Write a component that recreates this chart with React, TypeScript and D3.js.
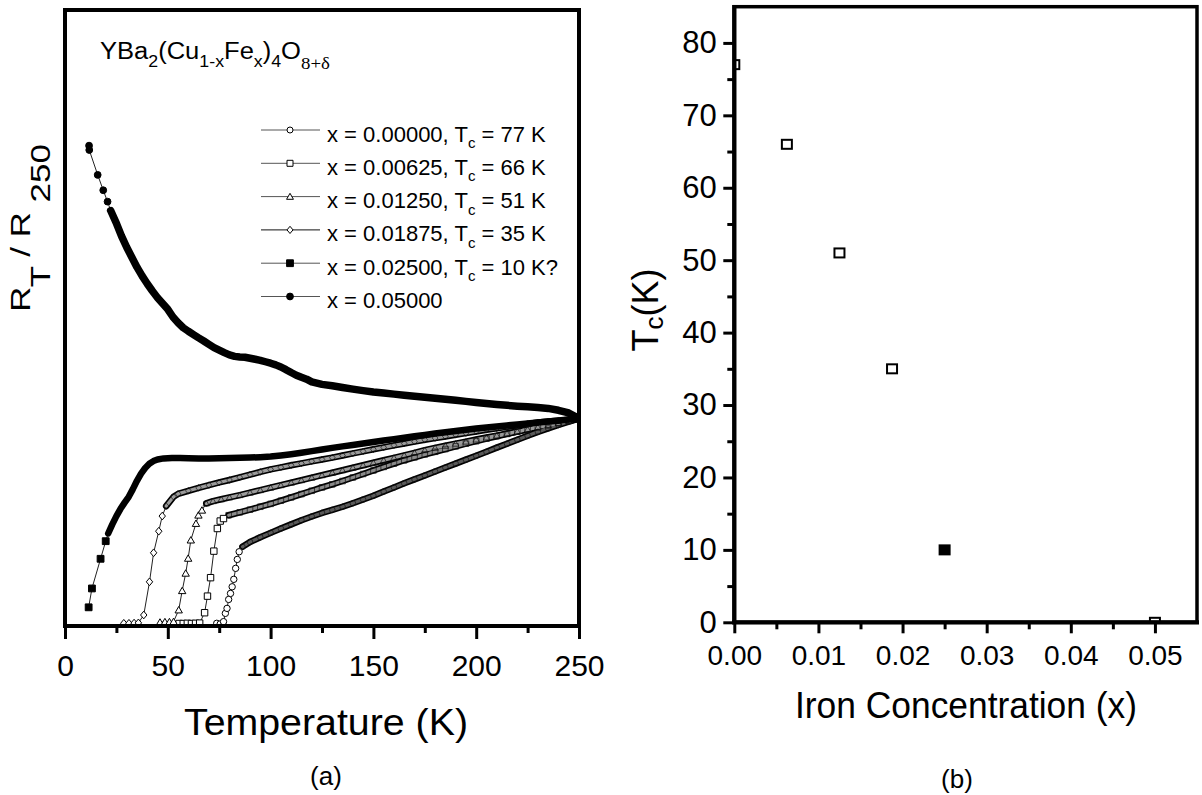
import React, { useEffect, useRef } from "react";
import * as d3 from "d3";

// ---- panel (a): R_T / R_250 against temperature (K), one pair per composition ----
const t00000 = [73.8, 75.5, 77.1, 78.0, 78.8, 79.6, 80.5, 81.3, 82.1, 83.0, 83.8, 84.7, 86.3,
  90, 95, 100, 105, 110, 115, 120, 125, 130, 135, 140, 145, 150, 155, 160, 165, 170, 175, 180,
  185, 190, 195, 200, 205, 210, 215, 220, 225, 230, 235, 240, 245, 250];
const r00000 = [0.013, 0.010, 0.021, 0.061, 0.085, 0.128, 0.157, 0.189, 0.225, 0.278, 0.321, 0.358, 0.382,
  0.405, 0.428, 0.449, 0.470, 0.490, 0.510, 0.528, 0.545, 0.560, 0.575, 0.592, 0.610, 0.628, 0.648, 0.668,
  0.688, 0.707, 0.726, 0.745, 0.764, 0.783, 0.802, 0.821, 0.840, 0.860, 0.879, 0.898, 0.917, 0.936, 0.953,
  0.969, 0.985, 1.0];

const t00625 = [55.5, 57.5, 59.5, 61.5, 63.5, 65.5, 67.9, 69.3, 70.8, 72.4, 74.1, 75.5, 77.1, 79.6,
  85, 90, 95, 100, 105, 110, 115, 120, 125, 130, 135, 140, 145, 150, 155, 160, 165, 170, 175, 180,
  185, 190, 195, 200, 205, 210, 215, 220, 225, 230, 235, 240, 245, 250];
const r00625 = [0.012, 0.012, 0.013, 0.012, 0.013, 0.014, 0.064, 0.144, 0.233, 0.361, 0.470, 0.506, 0.518, 0.534,
  0.548, 0.561, 0.575, 0.589, 0.604, 0.620, 0.636, 0.652, 0.668, 0.683, 0.699, 0.716, 0.733, 0.750, 0.767,
  0.783, 0.799, 0.813, 0.827, 0.840, 0.853, 0.866, 0.879, 0.891, 0.903, 0.915, 0.926, 0.937, 0.948, 0.958,
  0.968, 0.978, 0.989, 1.0];

const t01250 = [46.2, 48.6, 50.8, 52.8, 55.3, 57.0, 58.7, 59.9, 61.2, 63.7, 64.9, 66.6, 68.7, 72, 76, 80,
  85, 90, 95, 100, 105, 110, 115, 120, 125, 130, 135, 140, 145, 150, 155, 160, 165, 170, 175, 180,
  185, 190, 195, 200, 205, 210, 215, 220, 225, 230, 235, 240, 245, 250];
const r01250 = [0.018, 0.020, 0.020, 0.021, 0.077, 0.170, 0.254, 0.326, 0.414, 0.494, 0.534, 0.558, 0.591,
  0.602, 0.611, 0.620, 0.631, 0.643, 0.655, 0.667, 0.679, 0.691, 0.703, 0.715, 0.727, 0.739, 0.751, 0.763,
  0.775, 0.787, 0.799, 0.811, 0.823, 0.835, 0.848, 0.859, 0.869, 0.879, 0.889, 0.899, 0.909, 0.918, 0.928,
  0.938, 0.948, 0.958, 0.968, 0.979, 0.989, 1.0];

const t01875 = [28.6, 31.1, 33.6, 35.7, 38.3, 41.1, 43.1, 45.6, 47.3, 49.2, 52.8,
  55, 60, 65, 70, 75, 80, 85, 90, 95, 100, 105, 110, 115, 120, 125, 130, 135, 140, 145, 150, 155,
  160, 165, 170, 175, 180, 185, 190, 195, 200, 205, 210, 215, 220, 225, 230, 235, 240, 245, 250];
const r01875 = [0.013, 0.013, 0.014, 0.015, 0.053, 0.213, 0.353, 0.457, 0.530, 0.578, 0.623,
  0.637, 0.652, 0.666, 0.679, 0.692, 0.704, 0.717, 0.730, 0.743, 0.755, 0.765, 0.775, 0.784, 0.794, 0.803,
  0.812, 0.822, 0.832, 0.842, 0.852, 0.861, 0.871, 0.880, 0.889, 0.898, 0.906, 0.914, 0.922, 0.930, 0.938,
  0.946, 0.953, 0.960, 0.967, 0.974, 0.981, 0.986, 0.991, 0.996, 1.0];

const t02500 = [11.5, 13.1, 17.3, 19.8, 21, 23, 25, 27, 29, 31, 33, 35, 37, 39, 41, 43, 45, 48, 52, 56,
  60, 65, 70, 75, 80, 85, 90, 95, 100, 105, 110, 115, 120, 125, 130, 135, 140, 145, 150, 155, 160,
  165, 170, 175, 180, 185, 190, 195, 200, 205, 210, 215, 220, 225, 230, 235, 240, 245, 250];
const r02500 = [0.090, 0.181, 0.324, 0.409, 0.446, 0.490, 0.530, 0.565, 0.595, 0.623, 0.660, 0.700, 0.735,
  0.762, 0.782, 0.795, 0.803, 0.808, 0.810, 0.810, 0.809, 0.808, 0.808, 0.809, 0.810, 0.811, 0.812, 0.814,
  0.817, 0.822, 0.828, 0.835, 0.843, 0.851, 0.859, 0.866, 0.873, 0.880, 0.887, 0.894, 0.901, 0.908, 0.915,
  0.921, 0.928, 0.934, 0.940, 0.946, 0.952, 0.957, 0.962, 0.967, 0.972, 0.977, 0.981, 0.986, 0.990, 0.995, 1.0];

const t05000 = [11.7, 11.8, 15.9, 18.6, 20.7, 22.2, 25.1, 27.5, 30, 32.5, 35, 37.5, 40, 42.5, 45, 47.5,
  50, 52.5, 55, 57.5, 60, 62.5, 65, 67.5, 70, 72.5, 75, 77.5, 80, 82.5, 85, 87.5, 90, 92.5, 95, 97.5,
  100, 102.5, 105, 107.5, 110, 112.5, 115, 117.5, 120, 125, 130, 135, 140, 145, 150, 155, 160, 165,
  170, 175, 180, 185, 190, 195, 200, 205, 210, 215, 220, 225, 230, 235, 240, 245, 250];
const r05000 = [2.316, 2.295, 2.175, 2.101, 2.046, 2.003, 1.939, 1.880, 1.826, 1.778, 1.730, 1.688, 1.650,
  1.615, 1.583, 1.555, 1.527, 1.490, 1.462, 1.438, 1.421, 1.405, 1.389, 1.374, 1.358, 1.342, 1.330, 1.318,
  1.307, 1.300, 1.297, 1.296, 1.291, 1.286, 1.281, 1.274, 1.267, 1.259, 1.249, 1.236, 1.222, 1.209, 1.199,
  1.190, 1.177, 1.165, 1.158, 1.150, 1.142, 1.135, 1.128, 1.123, 1.118, 1.113, 1.108, 1.103, 1.098, 1.093,
  1.088, 1.083, 1.078, 1.073, 1.068, 1.064, 1.060, 1.057, 1.053, 1.049, 1.040, 1.027, 1.0];

const seriesT = [t00000, t00625, t01250, t01875, t02500, t05000];
const seriesR = [r00000, r00625, r01250, r01875, r02500, r05000];
const seriesX = ["0.00000", "0.00625", "0.01250", "0.01875", "0.02500", "0.05000"];
const seriesTc = ["77 K", "66 K", "51 K", "35 K", "10 K?", ""];
// temperature above which the measured points overlap into a solid band
const denseFrom = [86, 79.6, 68.7, 49.2, 21, 22.2];

const tempTicks = [0, 50, 100, 150, 200, 250];
const tempMinor = [25, 75, 125, 175, 225];

// ---- panel (b): Tc against iron content ----
const ironX = [0, 0.00625, 0.0125, 0.01875, 0.025, 0.05];
const tcK = [77, 66, 51, 35, 10, 0];
const tcUncertain = [false, false, false, false, true, false];

const ironTicks = [0, 0.01, 0.02, 0.03, 0.04, 0.05];
const ironMinor = [0.005, 0.015, 0.025, 0.035, 0.045];
const tcTicks = [0, 10, 20, 30, 40, 50, 60, 70, 80];
const tcMinor = [5, 15, 25, 35, 45, 55, 65, 75];

const W = 1202;
const H = 795;
const FONT = "'Liberation Sans', Arial, Helvetica, sans-serif";
const SERIF = "'Liberation Serif', 'Times New Roman', serif";

const markerType = ["circle", "square", "triangle", "diamond", "square", "circle"];
const markerFilled = [false, false, false, false, true, true];
const bandInner = ["#5a5a5a", "#8a8a8a", "#9a9a9a", "#9a9a9a"];

function markerPath(type: string, s: number): string {
  if (type === "circle") return `M${s},0A${s},${s} 0 1,1 ${-s},0A${s},${s} 0 1,1 ${s},0Z`;
  if (type === "square") return `M${-s},${-s}H${s}V${s}H${-s}Z`;
  if (type === "triangle") return `M0,${-s * 1.1}L${s * 1.15},${s * 0.9}L${-s * 1.15},${s * 0.9}Z`;
  return `M0,${-s * 1.2}L${s},0L0,${s * 1.2}L${-s},0Z`;
}

const App = () => {
  const svgRef = useRef<SVGSVGElement>(null);

  useEffect(() => {
    const svg = d3.select(svgRef.current);
    svg.selectAll("*").remove();
    svg.append("rect").attr("width", W).attr("height", H).attr("fill", "#fff");
    const defs = svg.append("defs");

    // ================= panel (a) =================
    const x = d3.scaleLinear().domain([0, 250]).range([65, 579]);
    const y = d3.scaleLinear().domain([0, 2.97]).range([626, 10]);

    defs.append("clipPath").attr("id", "clipA")
      .append("rect").attr("x", 65).attr("y", 10).attr("width", 514).attr("height", 616);
    const plotA = svg.append("g").attr("clip-path", "url(#clipA)");

    const series = seriesT.map((ts, i) =>
      ts.map((t, j) => [t, seriesR[i][j]]).filter(p => p[1] !== undefined));
    const line = d3.line<number[]>().x(d => x(d[0])).y(d => y(d[1]));
    const dense = (i: number) => series[i].filter(p => p[0] >= denseFrom[i]);

    // thin joining lines
    series.forEach(pts => {
      plotA.append("path").attr("d", line(pts)).attr("fill", "none")
        .attr("stroke", "#222").attr("stroke-width", 1);
    });

    // open-marker bands: dark outline then grey hatch-like core
    [0, 1, 2, 3].forEach(i => {
      plotA.append("path").attr("d", line(dense(i))).attr("fill", "none")
        .attr("stroke", "#000").attr("stroke-width", 6.5)
        .attr("stroke-linecap", "round").attr("stroke-linejoin", "round");
    });
    [0, 1, 2, 3].forEach(i => {
      plotA.append("path").attr("d", line(dense(i))).attr("fill", "none")
        .attr("stroke", bandInner[i]).attr("stroke-width", 3.2)
        .attr("stroke-linecap", "round").attr("stroke-linejoin", "round");
    });
    [0, 1, 2, 3].forEach(i => {
      plotA.append("g").selectAll("path").data(dense(i)).enter().append("path")
        .attr("transform", d => `translate(${x(d[0])},${y(d[1])})`)
        .attr("d", markerPath(markerType[i], 2.8))
        .attr("fill", "none").attr("stroke", "#111").attr("stroke-width", 0.7);
    });

    // filled-marker bands
    [4, 5].forEach(i => {
      plotA.append("path").attr("d", line(dense(i))).attr("fill", "none")
        .attr("stroke", "#000").attr("stroke-width", i === 5 ? 7.5 : 6.5)
        .attr("stroke-linecap", "round").attr("stroke-linejoin", "round");
    });

    // separate markers below the dense part
    series.forEach((pts, i) => {
      const sparse = pts.filter(p => p[0] < denseFrom[i]);
      plotA.append("g").selectAll("path").data(sparse).enter().append("path")
        .attr("transform", d => `translate(${x(d[0])},${y(d[1])})`)
        .attr("d", markerPath(markerType[i], markerFilled[i] ? 3.4 : 3.2))
        .attr("fill", markerFilled[i] ? "#000" : "#fff")
        .attr("stroke", "#000").attr("stroke-width", 1);
    });

    // frame + axis
    svg.append("rect").attr("x", 65).attr("y", 10).attr("width", 514).attr("height", 616)
      .attr("fill", "none").attr("stroke", "#000").attr("stroke-width", 4);

    const axA = svg.append("g").attr("transform", "translate(0,626)")
      .call(d3.axisBottom(x).tickValues(tempTicks).tickSize(13).tickPadding(16).tickFormat(d3.format("d")));
    axA.select(".domain").remove();
    axA.selectAll(".tick line").attr("stroke", "#000").attr("stroke-width", 3);
    axA.selectAll("text").attr("font-size", 30).attr("font-family", FONT).attr("fill", "#000");
    const axAm = svg.append("g").attr("transform", "translate(0,626)")
      .call(d3.axisBottom(x).tickValues(tempMinor).tickSize(7).tickFormat(() => ""));
    axAm.select(".domain").remove();
    axAm.selectAll(".tick line").attr("stroke", "#000").attr("stroke-width", 3);

    // formula
    const title = svg.append("text").attr("x", 100).attr("y", 59)
      .attr("font-family", FONT).attr("font-size", 23)
      .attr("textLength", 230).attr("lengthAdjust", "spacingAndGlyphs");
    const parts: [string, number][] = [["YBa", 0], ["2", 1], ["(Cu", 0], ["1-x", 1], ["Fe", 0], ["x", 1],
      [")", 0], ["4", 1], ["O", 0], ["8+δ", 2]];
    let cur = 0;
    parts.forEach(([s, lvl]) => {
      const target = lvl === 0 ? 0 : lvl === 1 ? 8 : 10;
      const ts = title.append("tspan").attr("dy", target - cur).text(s);
      if (lvl === 1) ts.attr("font-size", 16);
      if (lvl === 2) ts.attr("font-size", 17).attr("font-family", SERIF);
      cur = target;
    });

    // legend
    const legend = svg.append("g");
    seriesX.forEach((sx, i) => {
      const ly = 130 + 33.3 * i;
      legend.append("line").attr("x1", 261).attr("x2", 320).attr("y1", ly).attr("y2", ly)
        .attr("stroke", i === 3 ? "#111" : "#555").attr("stroke-width", 1);
      legend.append("path").attr("transform", `translate(290,${ly})`)
        .attr("d", markerPath(markerType[i], markerFilled[i] ? 3.4 : 3))
        .attr("fill", markerFilled[i] ? "#000" : "#fff").attr("stroke", "#000").attr("stroke-width", 1);
      const tx = legend.append("text").attr("x", 327).attr("y", ly + 11.5)
        .attr("font-family", FONT).attr("font-size", 22);
      if (seriesTc[i]) {
        tx.append("tspan").text(`x = ${sx}, T`);
        tx.append("tspan").attr("font-size", 15).attr("dy", 6.5).text("c");
        tx.append("tspan").attr("dy", -6.5).text(` = ${seriesTc[i]}`);
      } else {
        tx.text(`x = ${sx}`);
      }
    });

    // y label (rotated)
    const yl = svg.append("text").attr("transform", "translate(30,228) rotate(-90)")
      .attr("text-anchor", "middle").attr("font-family", FONT).attr("font-size", 27)
      .attr("textLength", 168).attr("lengthAdjust", "spacingAndGlyphs");
    yl.append("tspan").text("R");
    yl.append("tspan").attr("dy", 20).text("T");
    yl.append("tspan").attr("dy", -20).text(" / R");
    yl.append("tspan").attr("dy", 20).text(" 250");

    svg.append("text").attr("x", 326).attr("y", 735).attr("text-anchor", "middle")
      .attr("font-family", FONT).attr("font-size", 37)
      .attr("textLength", 284).attr("lengthAdjust", "spacingAndGlyphs").text("Temperature (K)");
    svg.append("text").attr("x", 326).attr("y", 785).attr("text-anchor", "middle")
      .attr("font-family", FONT).attr("font-size", 26).text("(a)");

    // ================= panel (b) =================
    const xb = d3.scaleLinear().domain([0, 0.055]).range([734.3, 1197]);
    const yb = d3.scaleLinear().domain([0, 85]).range([622.3, 6.7]);

    defs.append("clipPath").attr("id", "clipB")
      .append("rect").attr("x", 734.3).attr("y", 6.7).attr("width", 1197 - 734.3).attr("height", 622.3 - 6.7);
    const plotB = svg.append("g").attr("clip-path", "url(#clipB)");
    plotB.selectAll("rect").data(ironX).enter().append("rect")
      .attr("x", d => xb(d) - 5).attr("y", (d, i) => yb(tcK[i]) - 4.5)
      .attr("width", 10).attr("height", 9)
      .attr("fill", (d, i) => (tcUncertain[i] ? "#000" : "#fff"))
      .attr("stroke", "#000").attr("stroke-width", 2);

    svg.append("rect").attr("x", 734.3).attr("y", 6.7).attr("width", 1197 - 734.3).attr("height", 622.3 - 6.7)
      .attr("fill", "none").attr("stroke", "#000").attr("stroke-width", 3.5);
    svg.append("line").attr("x1", 734.3).attr("x2", 734.3).attr("y1", 5).attr("y2", 624)
      .attr("stroke", "#000").attr("stroke-width", 4.3);
    svg.append("line").attr("x1", 732).attr("x2", 1199).attr("y1", 622.3).attr("y2", 622.3)
      .attr("stroke", "#000").attr("stroke-width", 4.3);

    const styleAxis = (g: any, size: number) => {
      g.select(".domain").remove();
      g.selectAll(".tick line").attr("stroke", "#000").attr("stroke-width", 3);
      g.selectAll("text").attr("font-size", size).attr("font-family", FONT).attr("fill", "#000");
    };
    const axBx = svg.append("g").attr("transform", "translate(0,622.3)")
      .call(d3.axisBottom(xb).tickValues(ironTicks).tickSize(11).tickPadding(11.8).tickFormat(d3.format(".2f")));
    styleAxis(axBx, 28);
    const axBxm = svg.append("g").attr("transform", "translate(0,622.3)")
      .call(d3.axisBottom(xb).tickValues(ironMinor).tickSize(7).tickFormat(() => ""));
    styleAxis(axBxm, 28);
    const axBy = svg.append("g").attr("transform", "translate(734.3,0)")
      .call(d3.axisLeft(yb).tickValues(tcTicks).tickSize(11).tickPadding(6.6).tickFormat(d3.format("d")));
    styleAxis(axBy, 31);
    const axBym = svg.append("g").attr("transform", "translate(734.3,0)")
      .call(d3.axisLeft(yb).tickValues(tcMinor).tickSize(7).tickFormat(() => ""));
    styleAxis(axBym, 31);

    const tl = svg.append("text").attr("transform", "translate(658,310) rotate(-90)")
      .attr("text-anchor", "middle").attr("font-family", FONT).attr("font-size", 36);
    tl.append("tspan").text("T");
    tl.append("tspan").attr("font-size", 26).attr("dy", 5).text("c");
    tl.append("tspan").attr("dy", -5).text("(K)");

    svg.append("text").attr("x", 966).attr("y", 718).attr("text-anchor", "middle")
      .attr("font-family", FONT).attr("font-size", 36)
      .attr("textLength", 342).attr("lengthAdjust", "spacingAndGlyphs").text("Iron Concentration (x)");
    svg.append("text").attr("x", 957).attr("y", 788).attr("text-anchor", "middle")
      .attr("font-family", FONT).attr("font-size", 26).text("(b)");
  }, []);

  return (
    <div style={{ position: "absolute", left: 0, top: 0 }}>
      <svg ref={svgRef} width={W} height={H} style={{ display: "block" }}></svg>
    </div>
  );
};

export default App;
